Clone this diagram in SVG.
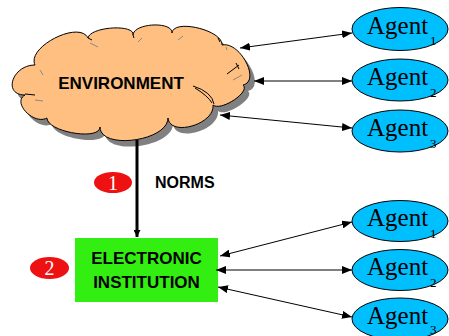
<svg xmlns="http://www.w3.org/2000/svg" width="449" height="336" viewBox="0 0 449 336">
<style>
.agent{fill:#00bfff;stroke:#000;stroke-width:1}
.at{font-family:"Liberation Serif","Times New Roman",serif;font-size:25px;fill:#000}
.sub{font-size:13px}
.bold{font-family:"Liberation Sans",Arial,sans-serif;font-weight:bold;fill:#000}
.num{fill:#ee1111}
.nt{font-family:"Liberation Serif","Times New Roman",serif;font-size:20px;fill:#fff;text-anchor:middle}
.conn{stroke:#000;stroke-width:1;fill:none;marker-start:url(#ah);marker-end:url(#ah)}
.deco{fill:none;stroke:#000;stroke-width:1}
.decog{fill:none;stroke:#888;stroke-width:1}
</style>
<defs>
<marker id="ah" viewBox="0 0 10 8" refX="10" refY="4" markerWidth="10" markerHeight="8" markerUnits="userSpaceOnUse" orient="auto-start-reverse">
<path d="M0,0 L10,4 L0,8 Z" fill="#000"/>
</marker>
<marker id="ahs" viewBox="0 0 8 8" refX="8" refY="4" markerWidth="7" markerHeight="7" markerUnits="userSpaceOnUse" orient="auto">
<path d="M0,0 L8,4 L0,8 Z" fill="#000"/>
</marker>
<path id="cloudPath" d="M35,65 C12.3,65 2.3,95 25,95 C11.7,102.3 33.7,125.3 47,118 C47,132 100,141 100,127 C100,150.3 168,141.3 168,118 C170,137.3 215,124.3 213,105 C221,111.7 251,91.7 243,85 C261,81 240,41 222,45 C223.3,30.3 173.3,18.3 172,33 C172.7,21 133.7,23 133,35 C135,23.7 90,26.7 88,38 C79.3,20 26.3,47 35,65 Z"/>
</defs>

<g id="environment">
<use href="#cloudPath" fill="#808080" transform="translate(5,6)"/>
<use href="#cloudPath" fill="#ffbf80" stroke="#000" stroke-width="1"/>
<path class="deco" d="M25,94 L35,95 M227,74 L239,65 M236,63 L239,69 M218,38 L220,42 M88,38 L92,40 M133,35 L134,38"/>
<path class="deco" d="M193,86 Q212,92 214,104 M195,88 Q208,96 212,103"/>
<path class="decog" d="M90,43 L98,47 M40,70 L43,75 M35,100 L43,101 M138,42 L142,38 M178,40 L183,36 M226,47 L227,50 M233,80 L242,75"/>
<text class="bold" x="121" y="89" font-size="17" text-anchor="middle">ENVIRONMENT</text>
</g>

<g id="institution">
<rect x="75" y="238" width="143" height="64" fill="#33ee11"/>
<text class="bold" x="146.5" y="264" font-size="17" text-anchor="middle">ELECTRONIC</text>
<text class="bold" x="146.5" y="288" font-size="17" text-anchor="middle">INSTITUTION</text>
</g>

<g id="badge1">
<ellipse class="num" cx="113" cy="182.5" rx="19" ry="10.5"/>
<text class="nt" x="113" y="189.5">1</text>
</g>
<g id="badge2">
<ellipse class="num" cx="49.5" cy="268" rx="19.5" ry="11"/>
<text class="nt" x="49.5" y="275">2</text>
</g>
<g id="norms-label">
<text class="bold" x="155" y="188" font-size="16">NORMS</text>
</g>

<g id="agent-e1"><ellipse class="agent" cx="400" cy="29" rx="48" ry="21.5"/><text class="at" x="367" y="33.5">Agent<tspan class="sub" dx="2" dy="11.5">1</tspan></text></g>
<g id="agent-e2"><ellipse class="agent" cx="400" cy="80" rx="48" ry="21"/><text class="at" x="367" y="84.5">Agent<tspan class="sub" dx="2" dy="12">2</tspan></text></g>
<g id="agent-e3"><ellipse class="agent" cx="400" cy="131" rx="48" ry="21"/><text class="at" x="367" y="135.5">Agent<tspan class="sub" dx="2" dy="12">3</tspan></text></g>
<g id="agent-i1"><ellipse class="agent" cx="400" cy="221" rx="48" ry="20.5"/><text class="at" x="367" y="225.5">Agent<tspan class="sub" dx="2" dy="12">1</tspan></text></g>
<g id="agent-i2"><ellipse class="agent" cx="400" cy="270" rx="48" ry="20.5"/><text class="at" x="367" y="274.5">Agent<tspan class="sub" dx="2" dy="12">2</tspan></text></g>
<g id="agent-i3"><ellipse class="agent" cx="400" cy="319" rx="48" ry="21"/><text class="at" x="367" y="323.5">Agent<tspan class="sub" dx="2" dy="10.5">3</tspan></text></g>

<g id="connectors">
<line x1="137" y1="140" x2="137" y2="237" stroke="#000" stroke-width="3" marker-end="url(#ahs)"/>
<line class="conn" x1="240" y1="48" x2="352" y2="33"/>
<line class="conn" x1="254" y1="81" x2="352" y2="81"/>
<line class="conn" x1="220" y1="115" x2="352" y2="128"/>
<line class="conn" x1="220" y1="256" x2="352" y2="222"/>
<line class="conn" x1="216" y1="270" x2="352" y2="270"/>
<line class="conn" x1="218" y1="287" x2="352" y2="317"/>
</g>
</svg>
